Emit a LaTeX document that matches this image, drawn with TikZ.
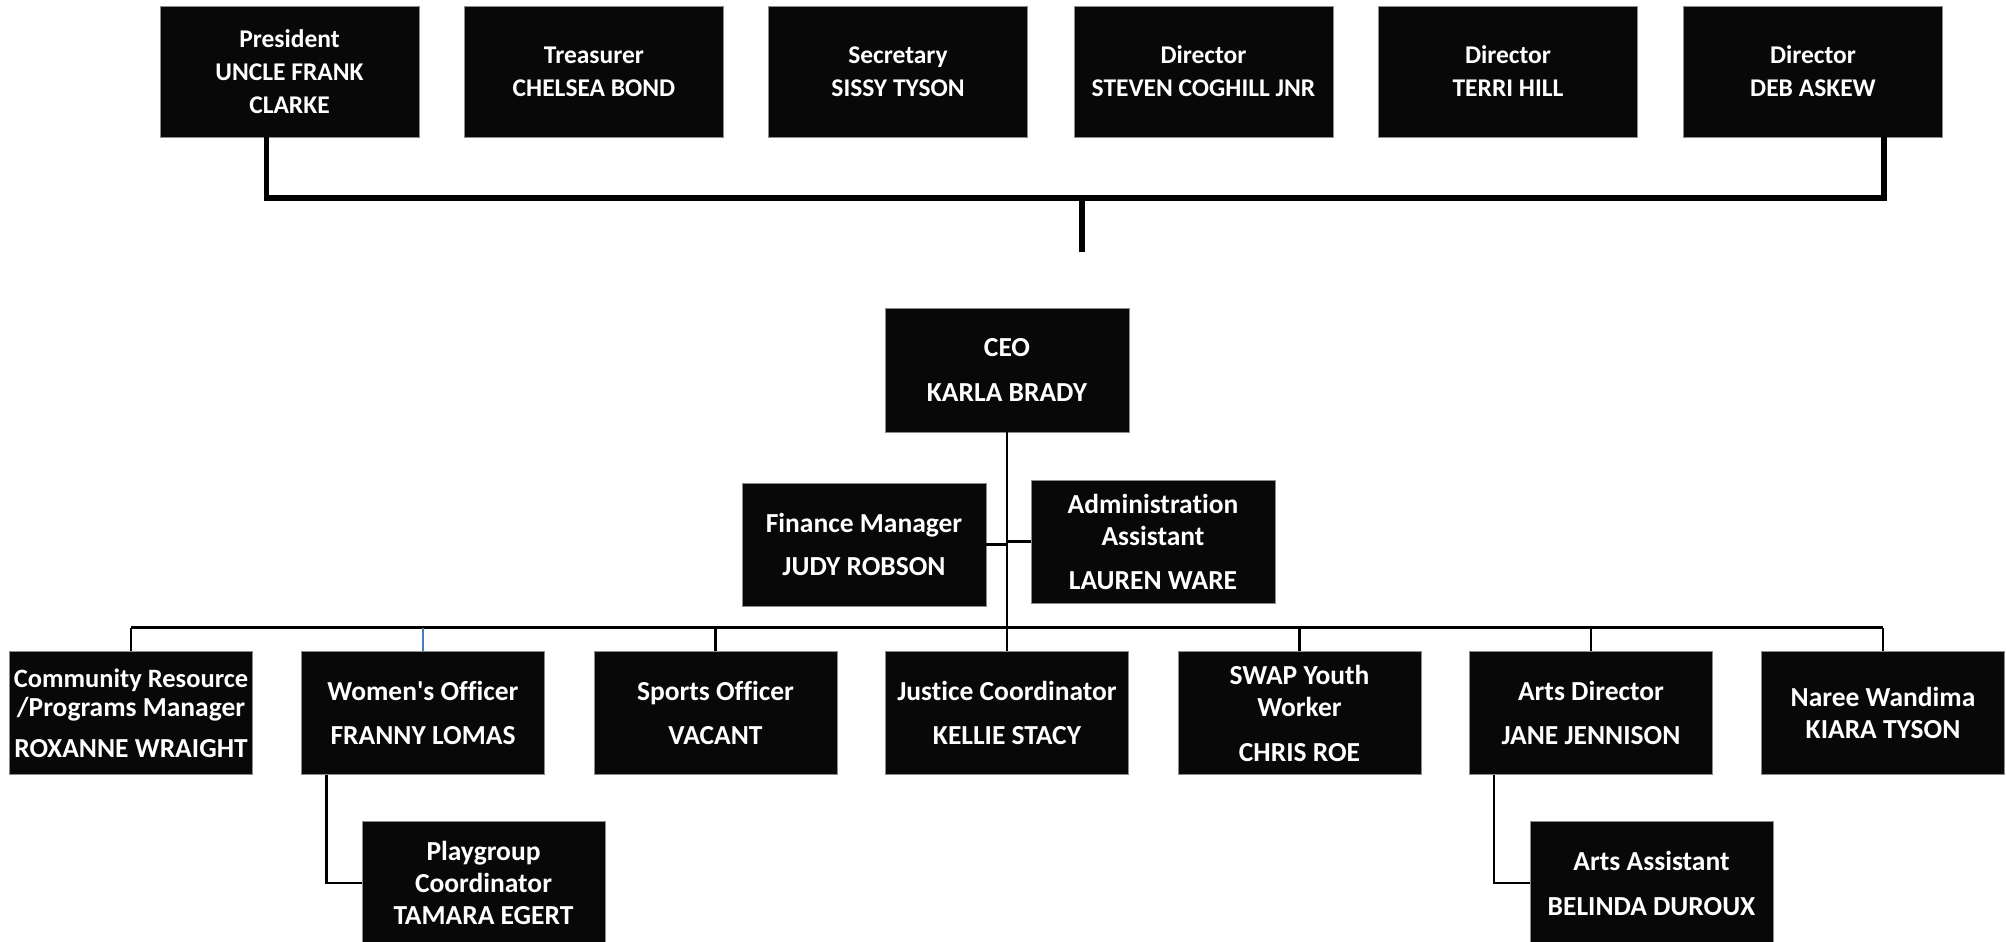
\documentclass[tikz,border=0pt]{standalone}
\usepackage{fontspec}
\setmainfont{Carlito}[Ligatures={NoCommon}]
\definecolor{boxfill}{HTML}{080808}
\definecolor{boxedge}{HTML}{8C8C8C}
\definecolor{linkblue}{HTML}{4A7EBB}

\begin{document}
\begin{tikzpicture}[
  x=1pt, y=-1pt,
  role/.style={rectangle, fill=boxfill, draw=boxedge, line width=0.8pt, text=white, align=center, inner sep=0pt},
  board/.style={role, minimum width=259pt, minimum height=131pt, font=\bfseries\fontsize{25.5}{33}\selectfont},
  staff/.style={role, minimum width=243pt, minimum height=123pt, font=\bfseries\fontsize{27.5}{32}\selectfont},
  trunk/.style={line width=5.5pt},
  link/.style={line width=2.5pt}
]
  \useasboundingbox (0,0) rectangle (2006,942);

  % board
  \node[board] (pres)    at (289.5,71.5) {President\\UNCLE FRANK\\CLARKE};
  \node[board] (treas)   at (594,71.5)   {Treasurer\\CHELSEA BOND};
  \node[board] (sec)     at (898,71.5)   {Secretary\\SISSY TYSON};
  \node[board] (coghill) at (1203.5,71.5) {Director\\STEVEN COGHILL JNR};
  \node[board] (hill)    at (1508,71.5)  {Director\\TERRI HILL};
  \node[board] (askew)   at (1813,71.5)  {Director\\DEB ASKEW};

  \coordinate (tl) at (266.5,198);
  \coordinate (tr) at (1884,198);
  \coordinate (tm) at (1082,198);
  \coordinate (tend) at (1082,252);
  \draw[trunk] (pres.south -| tl) -- (tl) -- (tr) -- (askew.south -| tr);
  \draw[trunk] (tm) -- (tend);

  % management
  \node[staff, minimum width=244pt, minimum height=124pt] (ceo) at (1007,370) {CEO\\[13pt]KARLA BRADY};
  \node[staff, minimum width=244pt] (fin)   at (864,544.5)  {Finance Manager\\[11pt]JUDY ROBSON};
  \node[staff, minimum width=244pt] (admin) at (1153,541.5) {Administration\\Assistant\\[12pt]LAUREN WARE};

  \coordinate (bus) at (1007,627.5);
  \draw[link] (ceo.south) -- (ceo.south |- bus);
  \draw[link] (fin.east) -- (fin.east -| ceo.south);
  \draw[link] (admin.west) -- (admin.west -| ceo.south);

  % staff
  \node[staff] (comm)    at (131,713)    {\fontsize{26.5}{32}\selectfont Community Resource\\[-3pt]/Programs Manager\\[9pt]\fontsize{27.5}{32}\selectfont ROXANNE WRAIGHT};
  \node[staff] (women)   at (423,713)    {Women\textquotesingle s Officer\\[12pt]FRANNY LOMAS};
  \node[staff] (sports)  at (715.5,713)  {Sports Officer\\[12pt]VACANT};
  \node[staff] (justice) at (1007,713)   {Justice Coordinator\\[12pt]KELLIE STACY};
  \node[staff] (swap)    at (1299.5,713) {SWAP Youth\\Worker\\[13pt]CHRIS ROE};
  \node[staff] (artsdir) at (1591,713)   {Arts Director\\[12pt]JANE JENNISON};
  \node[staff] (naree)   at (1883,713)   {Naree Wandima\\KIARA TYSON};

  \draw[link] (comm.north |- bus) -- (naree.north |- bus);
  \foreach \n in {comm,sports,justice,swap,artsdir,naree}
    \draw[link] (\n.north) -- (\n.north |- bus);
  \draw[link, draw=linkblue, line width=1.5pt] (women.north) -- (women.north |- bus);

  \node[staff] (play)     at (483.5,883)  {Playgroup\\Coordinator\\TAMARA EGERT};
  \node[staff] (artsasst) at (1651.5,883) {Arts Assistant\\[13pt]BELINDA DUROUX};

  \draw[link] ([xshift=-96.5pt]women.south) |- (play.west);
  \draw[link] ([xshift=-97pt]artsdir.south) |- (artsasst.west);
\end{tikzpicture}
\end{document}
